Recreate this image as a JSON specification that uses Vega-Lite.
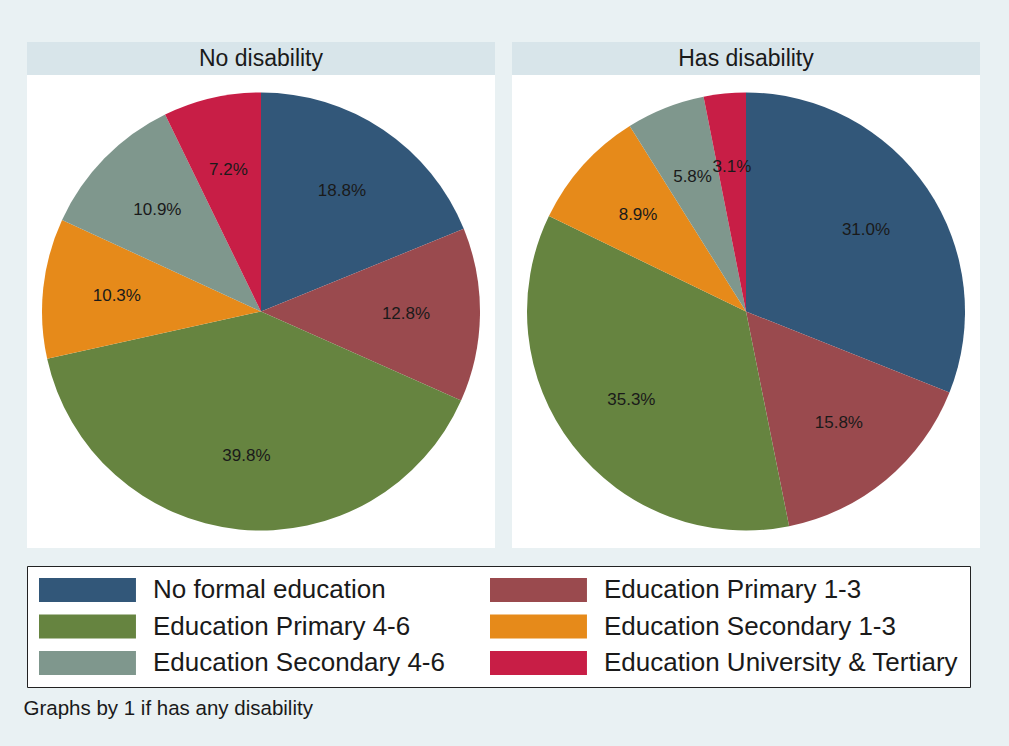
{
  "$schema": "https://vega.github.io/schema/vega-lite/v6.json",
  "background": "#E9F1F3",
  "padding": {"left": 23, "top": 42, "right": 29, "bottom": 28},
  "datasets": {
    "pie": [
      {"group": "No disability", "idx": 1, "category": "No formal education", "share": 0.188},
      {"group": "No disability", "idx": 2, "category": "Education Primary 1-3", "share": 0.128},
      {"group": "No disability", "idx": 3, "category": "Education Primary 4-6", "share": 0.398},
      {"group": "No disability", "idx": 4, "category": "Education Secondary 1-3", "share": 0.103},
      {"group": "No disability", "idx": 5, "category": "Education Secondary 4-6", "share": 0.109},
      {"group": "No disability", "idx": 6, "category": "Education University & Tertiary", "share": 0.072},
      {"group": "Has disability", "idx": 1, "category": "No formal education", "share": 0.310},
      {"group": "Has disability", "idx": 2, "category": "Education Primary 1-3", "share": 0.158},
      {"group": "Has disability", "idx": 3, "category": "Education Primary 4-6", "share": 0.353},
      {"group": "Has disability", "idx": 4, "category": "Education Secondary 1-3", "share": 0.089},
      {"group": "Has disability", "idx": 5, "category": "Education Secondary 4-6", "share": 0.058},
      {"group": "Has disability", "idx": 6, "category": "Education University & Tertiary", "share": 0.031}
    ],
    "heads": [
      {"group": "No disability"},
      {"group": "Has disability"}
    ]
  },
  "title": {
    "text": "Graphs by 1 if has any disability",
    "orient": "bottom",
    "anchor": "start",
    "offset": 11,
    "dx": -3,
    "fontSize": 20.5,
    "fontWeight": "normal",
    "font": "Liberation Sans",
    "color": "#1a1a1a"
  },
  "spacing": 17,
  "hconcat": [
    {
      "spacing": 0,
      "vconcat": [
        {
          "width": 468,
          "height": 33,
          "view": {"fill": "#D8E5EA", "stroke": null},
          "data": {"name": "heads"},
          "transform": [{"filter": "datum.group === 'No disability'"}],
          "mark": {"type": "text", "fontSize": 23, "font": "Liberation Sans", "color": "#1a1a1a"},
          "encoding": {"text": {"field": "group"}}
        },
        {
          "width": 468,
          "height": 473,
          "view": {"fill": "white", "stroke": null},
          "data": {"name": "pie"},
          "transform": [{"filter": "datum.group === 'No disability'"}],
          "encoding": {
            "theta": {"field": "share", "type": "quantitative", "stack": true},
            "order": {"field": "idx", "type": "quantitative"},
            "color": {
              "field": "category",
              "type": "nominal",
              "scale": {
                "domain": ["No formal education", "Education Primary 1-3", "Education Primary 4-6", "Education Secondary 1-3", "Education Secondary 4-6", "Education University & Tertiary"],
                "range": ["#325779", "#9A4A4E", "#668440", "#E68A1A", "#7F978D", "#C81E46"]
              },
              "legend": {}
            }
          },
          "layer": [
            {"mark": {"type": "arc", "outerRadius": 219}},
            {
              "mark": {"type": "text", "radius": 145, "fontSize": 17, "font": "Liberation Sans", "color": "#1a1a1a"},
              "encoding": {"text": {"field": "share", "type": "quantitative", "format": ".1%"}, "color": {"value": "#1a1a1a"}}
            }
          ]
        }
      ]
    },
    {
      "spacing": 0,
      "vconcat": [
        {
          "width": 468,
          "height": 33,
          "view": {"fill": "#D8E5EA", "stroke": null},
          "data": {"name": "heads"},
          "transform": [{"filter": "datum.group === 'Has disability'"}],
          "mark": {"type": "text", "fontSize": 23, "font": "Liberation Sans", "color": "#1a1a1a"},
          "encoding": {"text": {"field": "group"}}
        },
        {
          "width": 468,
          "height": 473,
          "view": {"fill": "white", "stroke": null},
          "data": {"name": "pie"},
          "transform": [{"filter": "datum.group === 'Has disability'"}],
          "encoding": {
            "theta": {"field": "share", "type": "quantitative", "stack": true},
            "order": {"field": "idx", "type": "quantitative"},
            "color": {
              "field": "category",
              "type": "nominal",
              "scale": {
                "domain": ["No formal education", "Education Primary 1-3", "Education Primary 4-6", "Education Secondary 1-3", "Education Secondary 4-6", "Education University & Tertiary"],
                "range": ["#325779", "#9A4A4E", "#668440", "#E68A1A", "#7F978D", "#C81E46"]
              }
            }
          },
          "layer": [
            {"mark": {"type": "arc", "outerRadius": 219}},
            {
              "mark": {"type": "text", "radius": 145, "fontSize": 17, "font": "Liberation Sans", "color": "#1a1a1a"},
              "encoding": {"text": {"field": "share", "type": "quantitative", "format": ".1%"}, "color": {"value": "#1a1a1a"}}
            }
          ]
        }
      ]
    }
  ],
  "resolve": {"scale": {"color": "shared"}, "legend": {"color": "shared"}},
  "config": {
    "view": {"stroke": null},
    "legend": {
      "orient": "bottom",
      "direction": "horizontal",
      "columns": 2,
      "title": null,
      "offset": 18,
      "padding": 11,
      "fillColor": "white",
      "strokeColor": "#222222",
      "symbolType": "M-1,-1H7.08V1H-1Z",
      "symbolSize": 576,
      "symbolStrokeWidth": 0,
      "symbolOpacity": 1,
      "labelOffset": 89,
      "labelFontSize": 26,
      "labelFont": "Liberation Sans",
      "labelColor": "#1a1a1a",
      "labelLimit": 600,
      "rowPadding": 10.5,
      "columnPadding": 44
    }
  }
}
